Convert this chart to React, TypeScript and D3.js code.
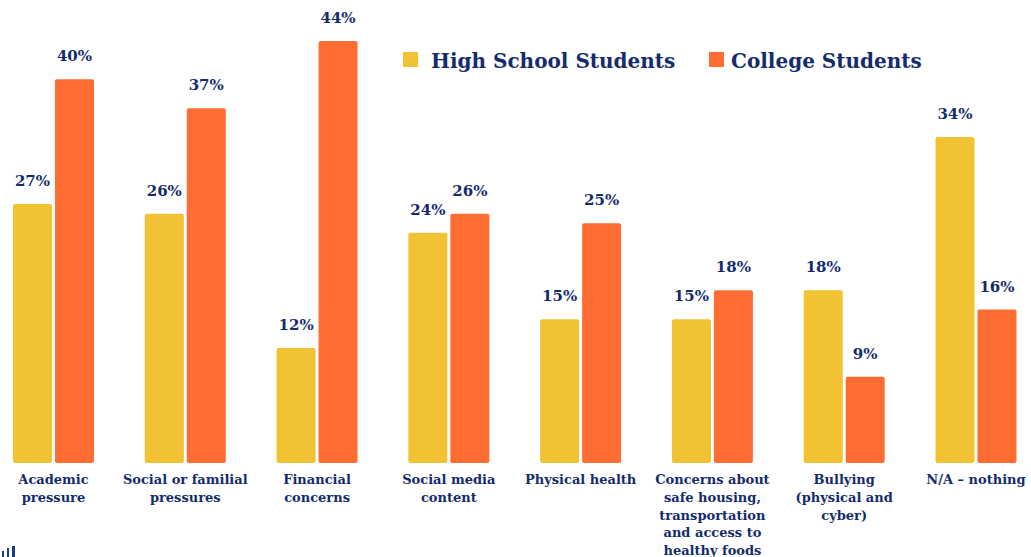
import * as d3 from 'd3';

const WIDTH = 1031;
const HEIGHT = 557;

const categories = [
  ['Academic', 'pressure'],
  ['Social or familial', 'pressures'],
  ['Financial', 'concerns'],
  ['Social media', 'content'],
  ['Physical health'],
  ['Concerns about', 'safe housing,', 'transportation', 'and access to', 'healthy foods'],
  ['Bullying', '(physical and', 'cyber)'],
  ['N/A – nothing'],
];

const seriesNames = ['High School Students', 'College Students'];
const highSchool = [27, 26, 12, 24, 15, 15, 18, 34];
const college = [40, 37, 44, 26, 25, 18, 9, 16];

const COLORS = ['#F0C234', '#FF6D33'];
const NAVY = '#142C6C';
const FONT = "'DejaVu Serif', Georgia, serif";

export default function App() {
  const keys = categories.map((c) => c.join(' '));

  // group centres
  const xScale = d3.scalePoint<string>().domain(keys).range([53.5, 976]);
  // bars inside a group
  const inner = d3
    .scaleBand<number>()
    .domain([0, 1])
    .range([-40.5, 40.5])
    .paddingInner(0.07);
  const yScale = d3.scaleLinear().domain([0, 44]).range([463, 41]);

  const values = [highSchool, college];

  return (
    <svg
      width={WIDTH}
      height={HEIGHT}
      style={{ position: 'absolute', left: 0, top: 0, background: '#fff' }}
      fontFamily={FONT}
    >
      {keys.map((k, i) => {
        const cx = xScale(k) || 0;
        return (
          <g key={k}>
            {values.map((series, s) => {
              const v = series[i];
              const x = cx + (inner(s) || 0);
              const y = yScale(v);
              return (
                <g key={s}>
                  <rect
                    x={x}
                    y={y}
                    width={inner.bandwidth()}
                    height={yScale(0) - y}
                    rx={2}
                    fill={COLORS[s]}
                  />
                  <text
                    x={x + inner.bandwidth() / 2}
                    y={y - 18}
                    textAnchor="middle"
                    fontSize={15}
                    fontWeight="bold"
                    fill={NAVY}
                  >
                    {v}%
                  </text>
                </g>
              );
            })}
            <text
              x={cx}
              y={484}
              textAnchor="middle"
              fontSize={13}
              fontWeight="bold"
              fill={NAVY}
            >
              {categories[i].map((line, j) => (
                <tspan key={j} x={cx} dy={j === 0 ? 0 : 17.8}>
                  {line}
                </tspan>
              ))}
            </text>
          </g>
        );
      })}

      {/* legend */}
      <g>
        <rect x={403} y={52} width={15} height={15} fill={COLORS[0]} />
        <text x={431} y={68} fontSize={20} fontWeight="bold" fill={NAVY}>
          {seriesNames[0]}
        </text>
        <rect x={709} y={52} width={15} height={15} fill={COLORS[1]} />
        <text x={731} y={68} fontSize={20} fontWeight="bold" fill={NAVY}>
          {seriesNames[1]}
        </text>
      </g>

      {/* logo fragment bottom-left */}
      <g fill="#1B3A8C">
        <rect x={2} y={551} width={2} height={6} />
        <rect x={7} y={548} width={2} height={9} />
        <rect x={12} y={546} width={3} height={11} />
      </g>
    </svg>
  );
}
